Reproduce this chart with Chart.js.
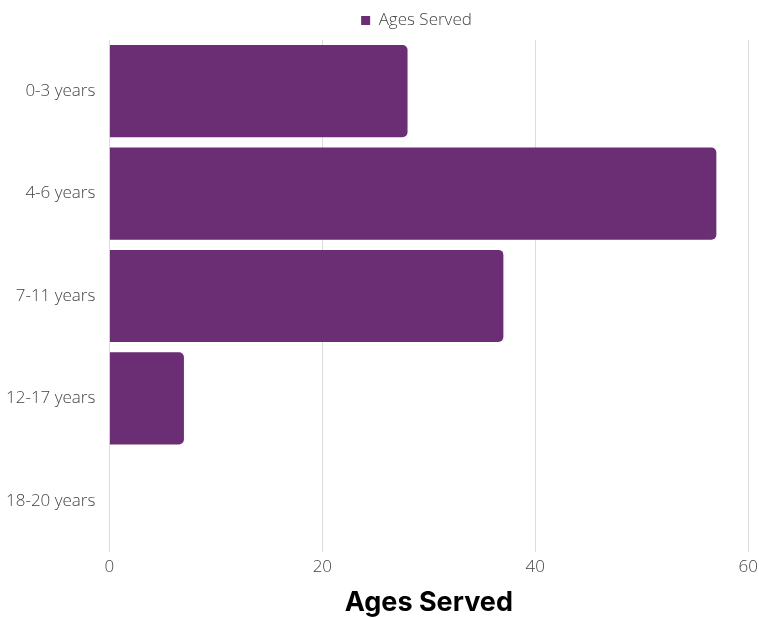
<!DOCTYPE html>
<html lang="en">
<head>
    <meta charset="UTF-8">
    <title>Ages Served</title>
    <script src="https://cdn.jsdelivr.net/npm/chart.js"></script>
    <style>
        html, body { margin: 0; padding: 0; background: #fff; }
        .wrap { width: 759px; height: 618px; }
    </style>
</head>
<body>
    <div class="wrap"><canvas id="agesChart"></canvas></div>

    <script>
        const ageGroups = ['0-3 years', '4-6 years', '7-11 years', '12-17 years', '18-20 years'];
        const agesServed = [28, 57, 37, 7, 0];
        const barColor = '#6b2d73';

        // a little extra room under the legend, and legend nudged right
        const legendTweak = {
            id: 'legendTweak',
            beforeInit(chart) {
                const origFit = chart.legend.fit;
                chart.legend.fit = function () {
                    origFit.bind(chart.legend)();
                    this.height += 1;
                };
            },
            afterLayout(chart) {
                chart.legend.left += 37;
                chart.legend.right += 37;
            }
        };

        let ctx = document.getElementById('agesChart').getContext('2d');
        new Chart(ctx, {
            type: 'bar',
            data: {
                labels: ageGroups,
                datasets: [
                    { label: 'Ages Served', data: agesServed, backgroundColor: barColor, borderRadius: 5,
                      categoryPercentage: 1.0, barPercentage: 0.9 }
                ]
            },
            options: {
                indexAxis: 'y',
                responsive: true,
                maintainAspectRatio: false,
                animation: false,
                layout: { padding: 0 },
                plugins: {
                    legend: {
                        labels: { boxWidth: 9, boxHeight: 9, padding: 12, color: '#444', font: { family: 'Open Sans', size: 17, weight: 300 } }
                    },
                    tooltip: { enabled: false }
                },
                scales: {
                    x: {
                        min: 0, max: 60,
                        afterFit: (scale) => { scale.paddingRight = Math.max(0, scale.paddingRight - 4); },
                        ticks: { stepSize: 20, color: '#444', padding: 5, font: { family: 'Open Sans', size: 17, weight: 300 } },
                        grid: { color: '#dcdcdc', drawTicks: false },
                        border: { display: false },
                        title: { display: true, text: 'Ages Served', color: '#000', font: { family: 'Inter', size: 27, weight: 'bold', lineHeight: 1.1 }, padding: { top: 6, bottom: 0 } }
                    },
                    y: {
                        ticks: { color: '#444', padding: 6, font: { family: 'Open Sans', size: 17, weight: 300 } },
                        grid: { display: false },
                        border: { display: false }
                    }
                }
            },
            plugins: [legendTweak]
        });
    </script>
</body>
</html>
